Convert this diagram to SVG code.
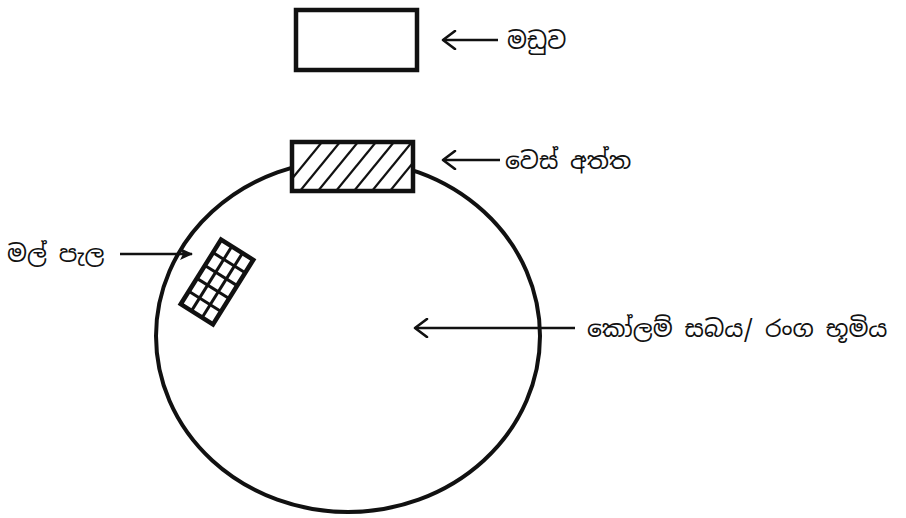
<svg xmlns="http://www.w3.org/2000/svg" width="906" height="518" viewBox="0 0 906 518">
<style>
.box{fill:#fff;stroke:#111;stroke-width:4.5}
.line{stroke:#111;stroke-width:2.6;fill:none}
.lbl{font-family:"Noto Sans Sinhala","Noto Serif Sinhala","Iskoola Pota","Noto Sans","DejaVu Sans",sans-serif;font-size:23.5px;fill:#111}
</style>
<defs>
<marker id="open" markerWidth="16" markerHeight="20" refX="14" refY="10" orient="auto" markerUnits="userSpaceOnUse">
<path d="M2,1 L14,10 L2,19" fill="none" stroke="#111" stroke-width="2.6" stroke-linecap="round" stroke-linejoin="round"/>
</marker>
<marker id="solid" markerWidth="14" markerHeight="14" refX="12" refY="7" orient="auto" markerUnits="userSpaceOnUse">
<path d="M0,1 L13,7 L0,13 L3,7 Z" fill="#111"/>
</marker>
<clipPath id="hclip"><rect x="292" y="142" width="121" height="49"/></clipPath>
</defs>
<rect width="906" height="518" fill="#fff"/>

<g id="stage">
<ellipse cx="348" cy="336" rx="192" ry="176" fill="none" stroke="#111" stroke-width="4"/>
</g>

<g id="maduwa">
<rect class="box" x="296" y="10" width="121" height="60"/>
</g>

<g id="wes-atta">
<rect class="box" x="292" y="142" width="121" height="49"/>
<g clip-path="url(#hclip)" stroke="#111" stroke-width="2.2">
<line x1="282" y1="191" x2="322" y2="142"/>
<line x1="300" y1="191" x2="340" y2="142"/>
<line x1="318" y1="191" x2="358" y2="142"/>
<line x1="336" y1="191" x2="376" y2="142"/>
<line x1="354" y1="191" x2="394" y2="142"/>
<line x1="372" y1="191" x2="412" y2="142"/>
<line x1="390" y1="191" x2="430" y2="142"/>
</g>
</g>

<g id="mal-pala" transform="translate(217,282) rotate(32)">
<rect x="-19" y="-38" width="38" height="76" fill="#fff" stroke="#111" stroke-width="4.5"/>
<g stroke="#111" stroke-width="3">
<line x1="-6.3" y1="-38" x2="-6.3" y2="38"/>
<line x1="6.3" y1="-38" x2="6.3" y2="38"/>
<line x1="-19" y1="-22.8" x2="19" y2="-22.8"/>
<line x1="-19" y1="-7.6" x2="19" y2="-7.6"/>
<line x1="-19" y1="7.6" x2="19" y2="7.6"/>
<line x1="-19" y1="22.8" x2="19" y2="22.8"/>
</g>
</g>

<g id="connectors">
<line class="line" x1="498" y1="40" x2="443" y2="40" marker-end="url(#open)"/>
<line class="line" x1="500" y1="160" x2="443" y2="160" marker-end="url(#open)"/>
<line class="line" x1="120" y1="254" x2="192" y2="254" marker-end="url(#solid)"/>
<line class="line" x1="575" y1="328" x2="415" y2="328" marker-end="url(#open)"/>
</g>

<g id="labels">
<text class="lbl" x="507" y="49">මඩුව</text>
<text class="lbl" x="505" y="169">වෙස් අත්ත</text>
<text class="lbl" x="7" y="262">මල් පැල</text>
<text class="lbl" x="587" y="337">කෝලම් සබය/ රංග භූමිය</text>
</g>
</svg>
